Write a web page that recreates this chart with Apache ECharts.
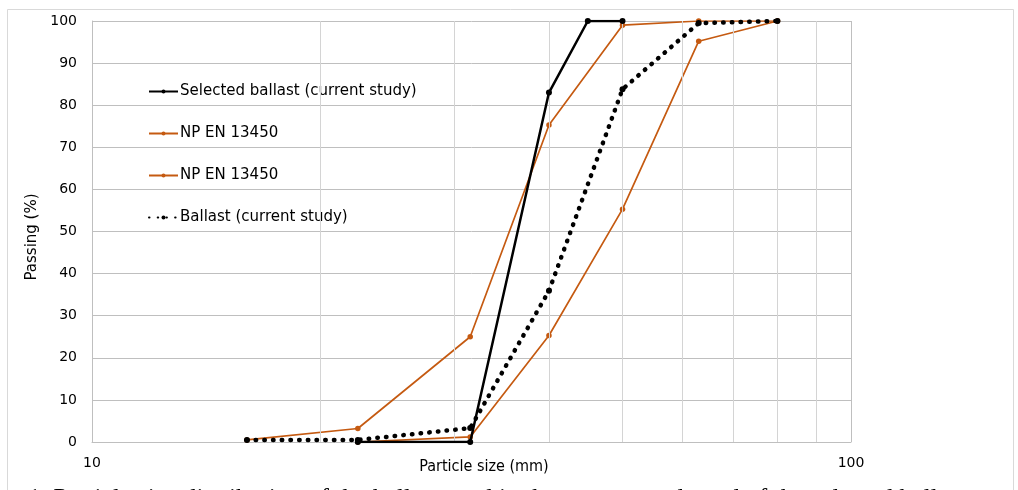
<!DOCTYPE html>
<html><head><meta charset="utf-8">
<script src="https://cdn.jsdelivr.net/npm/echarts@6/dist/echarts.min.js"></script>
<style>html,body{margin:0;padding:0;background:#fff}#c{width:1018px;height:490px}</style>
</head><body><div id="c"></div>
<script>
const seriesNames = ['Selected ballast (current study)', 'NP EN 13450', 'NP EN 13450 ', 'Ballast (current study)'];
const selectedX = [22.4, 31.5, 40, 45, 50];
const selectedY = [0, 0, 83, 100, 100];
const upperX = [16, 22.4, 31.5, 40, 50, 63, 80];
const upperY = [0.5, 3.2, 25, 75.3, 99, 100, 100];
const lowerX = [22.4, 31.5, 40, 50, 63, 80];
const lowerY = [0, 1.2, 25.3, 55.3, 95.2, 100];
const ballastX = [16, 22.4, 31.5, 40, 50, 63, 80];
const ballastY = [0.5, 0.5, 3.3, 35.9, 83.8, 99.5, 100];
const minorGridX = [20, 30, 40, 50, 60, 70, 80, 90];
const xAxisName = 'Particle size (mm)';
const yAxisName = 'Passing (%)';
const caption = '1. Particle size distribution of the ballast used in the current study and of the selected ballast';

const zip = (xs, ys) => xs.map((x, i) => [x, ys[i]]);
const ORANGE = '#C55A11';
const FONT = '"DejaVu Sans", Verdana, sans-serif';

const chart = echarts.init(document.getElementById('c'), null, {renderer: 'canvas'});
chart.setOption({
  animation: false,
  backgroundColor: '#fff',
  grid: {left: 92, right: 167, top: 21, bottom: 48},
  graphic: [
    {type: 'rect', shape: {x: 7.5, y: 9.5, width: 1006, height: 500}, style: {fill: 'none', stroke: '#d9d9d9', lineWidth: 1}, silent: true, z: -10},
    {type: 'text', x: 484, y: 467, style: {text: xAxisName, font: '16px "DejaVu Sans Condensed", "DejaVu Sans", sans-serif', fill: '#000', align: 'center', verticalAlign: 'middle'}},
    {type: 'text', x: 32, y: 237, rotation: Math.PI / 2, style: {text: yAxisName, font: '15px ' + FONT, fill: '#000', align: 'center', verticalAlign: 'middle'}},
    {type: 'text', x: 28, y: 486, style: {text: caption, font: '25.5px "Liberation Serif", "Times New Roman", serif', fill: '#000', align: 'left', verticalAlign: 'top'}}
  ],
  legend: {
    orient: 'vertical', left: 143, top: 79,
    itemWidth: 29, itemHeight: 5, itemGap: 27,
    textStyle: {fontFamily: FONT, fontSize: 15, color: '#000', padding: [0, 0, 0, -3]},
    data: seriesNames
  },
  xAxis: {
    type: 'log', logBase: 10, min: 10, max: 100,
    axisLine: {show: true, lineStyle: {color: '#bfbfbf', width: 1}},
    axisTick: {show: false},
    axisLabel: {fontFamily: FONT, fontSize: 14, color: '#000', margin: 14},
    splitLine: {show: true, lineStyle: {color: '#bfbfbf', width: 1}},
    minorTick: {show: false}, minorSplitLine: {show: false}
  },
  yAxis: {
    type: 'value', min: 0, max: 100, interval: 10,
    axisLine: {show: true, lineStyle: {color: '#bfbfbf', width: 1}},
    axisTick: {show: false},
    axisLabel: {fontFamily: FONT, fontSize: 14, color: '#000', margin: 15},
    splitLine: {show: true, lineStyle: {color: '#bfbfbf', width: 1}}
  },
  series: [
    {
      name: '_grid', type: 'line', data: [], silent: true, z: 0,
      markLine: {
        silent: true, symbol: 'none', label: {show: false},
        lineStyle: {color: '#d4d4d4', width: 1, type: 'solid'},
        data: minorGridX.map(v => ({xAxis: v}))
      }
    },
    {
      name: seriesNames[0], type: 'line', data: zip(selectedX, selectedY), z: 5,
      symbol: 'circle', symbolSize: 6, showAllSymbol: true,
      lineStyle: {color: '#000', width: 2.5},
      itemStyle: {color: '#000'}
    },
    {
      name: seriesNames[1], type: 'line', data: zip(upperX, upperY), z: 4,
      symbol: 'circle', symbolSize: 5.5,
      lineStyle: {color: ORANGE, width: 1.7},
      itemStyle: {color: ORANGE}
    },
    {
      name: seriesNames[2], type: 'line', data: zip(lowerX, lowerY), z: 4,
      symbol: 'circle', symbolSize: 5.5,
      lineStyle: {color: ORANGE, width: 1.7},
      itemStyle: {color: ORANGE}
    },
    {
      name: seriesNames[3], type: 'line', data: zip(ballastX, ballastY), z: 6,
      symbol: 'circle', symbolSize: 6,
      lineStyle: {color: '#000', width: 4.5, type: [0.5, 8.2], cap: 'round'},
      itemStyle: {color: '#000'}
    }
  ]
});
</script></body></html>
